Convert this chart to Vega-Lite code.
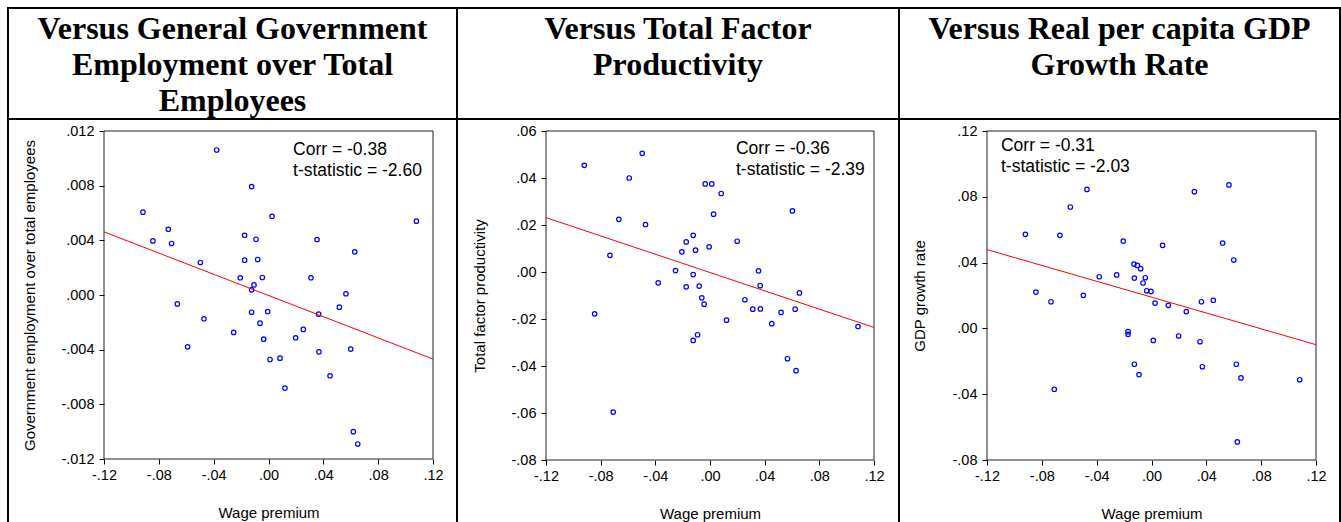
{
  "$schema": "https://vega.github.io/schema/vega-lite/v6.json",
  "background": "white",
  "padding": {"left": 7, "top": 7, "right": 0, "bottom": 0},
  "columns": 3,
  "spacing": 0,
  "bounds": "flush",
  "align": "each",
  "config": {
    "view": {"stroke": "black", "strokeWidth": 2},
    "concat": {"spacing": 0},
    "font": "Liberation Sans",
    "axis": {
      "grid": false,
      "labelFont": "Liberation Sans",
      "labelFontSize": 14.5,
      "labelColor": "black",
      "labelFlush": false,
      "labelOverlap": false,
      "labelBound": false,
      "titleFont": "Liberation Sans",
      "titleFontSize": 15,
      "titleFontWeight": "normal",
      "titleColor": "black",
      "tickColor": "black",
      "tickSize": 5,
      "domain": false
    }
  },
  "datasets": {
    "gov": [
      {"x": -0.0378, "y": 0.01061}, {"x": -0.0123, "y": 0.00793}, {"x": -0.0916, "y": 0.00606},
      {"x": 0.0026, "y": 0.00576}, {"x": 0.1079, "y": 0.0054}, {"x": -0.0731, "y": 0.00481},
      {"x": -0.0843, "y": 0.00396}, {"x": -0.0707, "y": 0.00377}, {"x": -0.0174, "y": 0.00437},
      {"x": -0.0091, "y": 0.00408}, {"x": 0.0354, "y": 0.00406}, {"x": 0.0629, "y": 0.00316},
      {"x": -0.0497, "y": 0.00238}, {"x": -0.0174, "y": 0.00255}, {"x": -0.0079, "y": 0.0026},
      {"x": -0.0206, "y": 0.00126}, {"x": -0.0045, "y": 0.00128}, {"x": 0.031, "y": 0.00126},
      {"x": -0.0106, "y": 0.00074}, {"x": -0.0123, "y": 0.00038}, {"x": 0.0565, "y": 0.00009},
      {"x": -0.0665, "y": -0.00065}, {"x": -0.0123, "y": -0.00126}, {"x": -0.0006, "y": -0.00121},
      {"x": 0.0517, "y": -0.00089}, {"x": 0.0366, "y": -0.0014}, {"x": -0.0471, "y": -0.00174},
      {"x": -0.0062, "y": -0.00206}, {"x": -0.0254, "y": -0.00274}, {"x": 0.0254, "y": -0.00252},
      {"x": -0.0035, "y": -0.00323}, {"x": 0.0198, "y": -0.00313}, {"x": -0.059, "y": -0.00379},
      {"x": 0.06, "y": -0.00396}, {"x": 0.0368, "y": -0.00416}, {"x": 0.0011, "y": -0.00472},
      {"x": 0.0084, "y": -0.00462}, {"x": 0.0449, "y": -0.00591}, {"x": 0.012, "y": -0.00681},
      {"x": 0.0619, "y": -0.01}, {"x": 0.0651, "y": -0.0109}
    ],
    "govLine": [{"x": -0.12, "y": 0.00462}, {"x": 0.12, "y": -0.00469}],
    "tfp": [
      {"x": -0.092, "y": 0.0454}, {"x": -0.0496, "y": 0.0505}, {"x": -0.0591, "y": 0.04},
      {"x": -0.0035, "y": 0.0375}, {"x": 0.0013, "y": 0.0375}, {"x": 0.0082, "y": 0.0334},
      {"x": -0.0667, "y": 0.0224}, {"x": 0.0026, "y": 0.0246}, {"x": 0.0603, "y": 0.026},
      {"x": -0.0472, "y": 0.0202}, {"x": -0.0123, "y": 0.0156}, {"x": -0.0174, "y": 0.0128},
      {"x": 0.0199, "y": 0.0131}, {"x": -0.0206, "y": 0.0086}, {"x": -0.0106, "y": 0.0093},
      {"x": -0.0006, "y": 0.0107}, {"x": -0.0732, "y": 0.0071}, {"x": -0.0252, "y": 0.0006},
      {"x": 0.0355, "y": 0.0005}, {"x": -0.0123, "y": -0.0011}, {"x": -0.0379, "y": -0.0046},
      {"x": -0.0174, "y": -0.0063}, {"x": -0.0079, "y": -0.006}, {"x": 0.0367, "y": -0.0058},
      {"x": 0.0654, "y": -0.0089}, {"x": -0.006, "y": -0.011}, {"x": -0.0043, "y": -0.0137},
      {"x": 0.0255, "y": -0.0118}, {"x": 0.0313, "y": -0.0158}, {"x": 0.0369, "y": -0.0157},
      {"x": 0.0623, "y": -0.0158}, {"x": 0.052, "y": -0.0172}, {"x": -0.0844, "y": -0.0178},
      {"x": 0.0121, "y": -0.0205}, {"x": 0.0452, "y": -0.022}, {"x": 0.1083, "y": -0.0232},
      {"x": -0.0091, "y": -0.0267}, {"x": -0.0123, "y": -0.0291}, {"x": 0.0567, "y": -0.0369},
      {"x": 0.063, "y": -0.042}, {"x": -0.0708, "y": -0.0596}
    ],
    "tfpLine": [{"x": -0.12, "y": 0.02315}, {"x": 0.12, "y": -0.0236}],
    "gdp": [
      {"x": 0.0565, "y": 0.0872}, {"x": 0.0313, "y": 0.0831}, {"x": -0.0471, "y": 0.0845},
      {"x": -0.0592, "y": 0.0738}, {"x": -0.092, "y": 0.0572}, {"x": -0.0668, "y": 0.0566},
      {"x": -0.0206, "y": 0.0531}, {"x": 0.0519, "y": 0.0519}, {"x": 0.0081, "y": 0.0505},
      {"x": 0.06, "y": 0.0416}, {"x": -0.0128, "y": 0.0391}, {"x": -0.0103, "y": 0.0383},
      {"x": -0.0079, "y": 0.0363}, {"x": -0.0381, "y": 0.0314}, {"x": -0.0254, "y": 0.0325},
      {"x": -0.0125, "y": 0.0306}, {"x": -0.0045, "y": 0.0308}, {"x": -0.0062, "y": 0.0276},
      {"x": -0.0843, "y": 0.0221}, {"x": -0.0035, "y": 0.0229}, {"x": -0.0004, "y": 0.0225},
      {"x": -0.0497, "y": 0.0201}, {"x": -0.0733, "y": 0.0162}, {"x": 0.0026, "y": 0.0154},
      {"x": 0.0364, "y": 0.0162}, {"x": 0.0451, "y": 0.0171}, {"x": 0.0123, "y": 0.014},
      {"x": 0.0254, "y": 0.0102}, {"x": -0.0171, "y": -0.002}, {"x": -0.0171, "y": -0.0036},
      {"x": 0.0198, "y": -0.0046}, {"x": 0.0013, "y": -0.0073}, {"x": 0.0354, "y": -0.0081},
      {"x": -0.0125, "y": -0.0218}, {"x": 0.0619, "y": -0.0218}, {"x": 0.0371, "y": -0.0233},
      {"x": -0.0091, "y": -0.0281}, {"x": 0.0653, "y": -0.0301}, {"x": 0.1081, "y": -0.0312},
      {"x": -0.0709, "y": -0.037}, {"x": 0.0626, "y": -0.069}
    ],
    "gdpLine": [{"x": -0.12, "y": 0.0479}, {"x": 0.12, "y": -0.0099}],
    "titles": [
      {"panel": 1, "t": ["Versus General Government", "Employment over Total", "Employees"]},
      {"panel": 2, "t": ["Versus Total Factor", "Productivity"]},
      {"panel": 3, "t": ["Versus Real per capita GDP", "Growth Rate"]}
    ],
    "notes": [
      {"panel": 1, "t": ["Corr = -0.38", "t-statistic = -2.60"]},
      {"panel": 2, "t": ["Corr = -0.36", "t-statistic = -2.39"]},
      {"panel": 3, "t": ["Corr = -0.31", "t-statistic = -2.03"]}
    ],
    "one": [{"k": 1}]
  },
  "concat": [
    {
      "width": 449,
      "height": 111,
      "data": {"name": "titles"},
      "transform": [{"filter": "datum.panel == 1"}],
      "mark": {"type": "text", "font": "Liberation Serif", "fontWeight": "bold", "fontSize": 32, "lineHeight": 36, "align": "center", "baseline": "middle", "color": "black"},
      "encoding": {
        "x": {"datum": 0.5, "type": "quantitative", "scale": {"domain": [0, 1]}, "axis": null},
        "y": {"datum": 0.815, "type": "quantitative", "scale": {"domain": [0, 1]}, "axis": null},
        "text": {"field": "t"}
      }
    },
    {
      "width": 442,
      "height": 111,
      "data": {"name": "titles"},
      "transform": [{"filter": "datum.panel == 2"}],
      "mark": {"type": "text", "font": "Liberation Serif", "fontWeight": "bold", "fontSize": 32, "lineHeight": 36, "align": "center", "baseline": "middle", "color": "black"},
      "encoding": {
        "x": {"datum": 0.5, "type": "quantitative", "scale": {"domain": [0, 1]}, "axis": null},
        "y": {"datum": 0.815, "type": "quantitative", "scale": {"domain": [0, 1]}, "axis": null},
        "text": {"field": "t"}
      }
    },
    {
      "width": 441,
      "height": 111,
      "data": {"name": "titles"},
      "transform": [{"filter": "datum.panel == 3"}],
      "mark": {"type": "text", "font": "Liberation Serif", "fontWeight": "bold", "fontSize": 32, "lineHeight": 36, "align": "center", "baseline": "middle", "color": "black"},
      "encoding": {
        "x": {"datum": 0.5, "type": "quantitative", "scale": {"domain": [0, 1]}, "axis": null},
        "y": {"datum": 0.815, "type": "quantitative", "scale": {"domain": [0, 1]}, "axis": null},
        "text": {"field": "t"}
      }
    },
    {
      "width": 449,
      "height": 410,
      "layer": [
        {
          "data": {"name": "gov"},
          "mark": {"type": "point", "shape": "circle", "filled": false, "color": "#0000FF", "size": 20, "strokeWidth": 1.2, "opacity": 1},
          "encoding": {
            "x": {"field": "x", "type": "quantitative",
              "scale": {"domain": [-0.12, 0.12], "range": [96, 425], "nice": false, "zero": false},
              "axis": {"orient": "bottom", "offset": -70, "values": [-0.12, -0.08, -0.04, 0, 0.04, 0.08, 0.12],
                "labelExpr": "(datum.value < -0.000001 ? '-' : '') + replace(format(abs(datum.value), '.2f'), '0.', '.')",
                "labelPadding": 4, "title": "Wage premium", "titlePadding": 24}},
            "y": {"field": "y", "type": "quantitative",
              "scale": {"domain": [-0.012, 0.012], "range": [340, 12], "nice": false, "zero": false},
              "axis": {"orient": "left", "offset": -96, "values": [-0.012, -0.008, -0.004, 0, 0.004, 0.008, 0.012],
                "labelExpr": "(datum.value < -0.000001 ? '-' : '') + replace(format(abs(datum.value), '.3f'), '0.', '.')",
                "labelPadding": 5, "title": "Government employment over total employees", "titlePadding": 23}}
          }
        },
        {
          "data": {"name": "one"},
          "mark": {"type": "rect", "fill": "transparent", "stroke": "#222222", "strokeWidth": 1},
          "encoding": {"x": {"datum": -0.12, "type": "quantitative"}, "x2": {"datum": 0.12}, "y": {"datum": -0.012, "type": "quantitative"}, "y2": {"datum": 0.012}}
        },
        {
          "data": {"name": "govLine"},
          "mark": {"type": "line", "color": "#FF0000", "strokeWidth": 1},
          "encoding": {"x": {"field": "x", "type": "quantitative"}, "y": {"field": "y", "type": "quantitative"}}
        },
        {
          "data": {"name": "notes"},
          "transform": [{"filter": "datum.panel == 1"}],
          "mark": {"type": "text", "align": "left", "baseline": "top", "fontSize": 17.5, "lineHeight": 21, "color": "black", "font": "Liberation Sans"},
          "encoding": {"x": {"datum": 0.0179, "type": "quantitative"}, "y": {"datum": 0.0113, "type": "quantitative"}, "text": {"field": "t"}}
        }
      ]
    },
    {
      "width": 442,
      "height": 410,
      "layer": [
        {
          "data": {"name": "tfp"},
          "mark": {"type": "point", "shape": "circle", "filled": false, "color": "#0000FF", "size": 20, "strokeWidth": 1.2, "opacity": 1},
          "encoding": {
            "x": {"field": "x", "type": "quantitative",
              "scale": {"domain": [-0.12, 0.12], "range": [89, 417], "nice": false, "zero": false},
              "axis": {"orient": "bottom", "offset": -69, "values": [-0.12, -0.08, -0.04, 0, 0.04, 0.08, 0.12],
                "labelExpr": "(datum.value < -0.000001 ? '-' : '') + replace(format(abs(datum.value), '.2f'), '0.', '.')",
                "labelPadding": 4, "title": "Wage premium", "titlePadding": 24}},
            "y": {"field": "y", "type": "quantitative",
              "scale": {"domain": [-0.08, 0.06], "range": [341, 12], "nice": false, "zero": false},
              "axis": {"orient": "left", "offset": -89, "values": [-0.08, -0.06, -0.04, -0.02, 0, 0.02, 0.04, 0.06],
                "labelExpr": "(datum.value < -0.000001 ? '-' : '') + replace(format(abs(datum.value), '.2f'), '0.', '.')",
                "labelPadding": 5, "title": "Total factor productivity", "titlePadding": 24}}
          }
        },
        {
          "data": {"name": "one"},
          "mark": {"type": "rect", "fill": "transparent", "stroke": "#222222", "strokeWidth": 1},
          "encoding": {"x": {"datum": -0.12, "type": "quantitative"}, "x2": {"datum": 0.12}, "y": {"datum": -0.08, "type": "quantitative"}, "y2": {"datum": 0.06}}
        },
        {
          "data": {"name": "tfpLine"},
          "mark": {"type": "line", "color": "#FF0000", "strokeWidth": 1},
          "encoding": {"x": {"field": "x", "type": "quantitative"}, "y": {"field": "y", "type": "quantitative"}}
        },
        {
          "data": {"name": "notes"},
          "transform": [{"filter": "datum.panel == 2"}],
          "mark": {"type": "text", "align": "left", "baseline": "top", "fontSize": 17.5, "lineHeight": 21, "color": "black", "font": "Liberation Sans"},
          "encoding": {"x": {"datum": 0.019, "type": "quantitative"}, "y": {"datum": 0.056, "type": "quantitative"}, "text": {"field": "t"}}
        }
      ]
    },
    {
      "width": 441,
      "height": 410,
      "layer": [
        {
          "data": {"name": "gdp"},
          "mark": {"type": "point", "shape": "circle", "filled": false, "color": "#0000FF", "size": 20, "strokeWidth": 1.2, "opacity": 1},
          "encoding": {
            "x": {"field": "x", "type": "quantitative",
              "scale": {"domain": [-0.12, 0.12], "range": [88, 417], "nice": false, "zero": false},
              "axis": {"orient": "bottom", "offset": -69, "values": [-0.12, -0.08, -0.04, 0, 0.04, 0.08, 0.12],
                "labelExpr": "(datum.value < -0.000001 ? '-' : '') + replace(format(abs(datum.value), '.2f'), '0.', '.')",
                "labelPadding": 4, "title": "Wage premium", "titlePadding": 24}},
            "y": {"field": "y", "type": "quantitative",
              "scale": {"domain": [-0.08, 0.12], "range": [341, 12], "nice": false, "zero": false},
              "axis": {"orient": "left", "offset": -88, "values": [-0.08, -0.04, 0, 0.04, 0.08, 0.12],
                "labelExpr": "(datum.value < -0.000001 ? '-' : '') + replace(format(abs(datum.value), '.2f'), '0.', '.')",
                "labelPadding": 5, "title": "GDP growth rate", "titlePadding": 25}}
          }
        },
        {
          "data": {"name": "one"},
          "mark": {"type": "rect", "fill": "transparent", "stroke": "#222222", "strokeWidth": 1},
          "encoding": {"x": {"datum": -0.12, "type": "quantitative"}, "x2": {"datum": 0.12}, "y": {"datum": -0.08, "type": "quantitative"}, "y2": {"datum": 0.12}}
        },
        {
          "data": {"name": "gdpLine"},
          "mark": {"type": "line", "color": "#FF0000", "strokeWidth": 1},
          "encoding": {"x": {"field": "x", "type": "quantitative"}, "y": {"field": "y", "type": "quantitative"}}
        },
        {
          "data": {"name": "notes"},
          "transform": [{"filter": "datum.panel == 3"}],
          "mark": {"type": "text", "align": "left", "baseline": "top", "fontSize": 17.5, "lineHeight": 21, "color": "black", "font": "Liberation Sans"},
          "encoding": {"x": {"datum": -0.1098, "type": "quantitative"}, "y": {"datum": 0.1161, "type": "quantitative"}, "text": {"field": "t"}}
        }
      ]
    }
  ]
}
